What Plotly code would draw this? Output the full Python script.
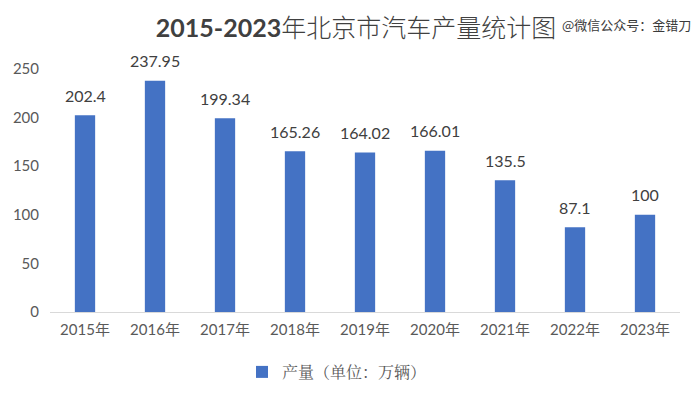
import plotly.graph_objects as go

years = ["2015年", "2016年", "2017年", "2018年", "2019年", "2020年", "2021年", "2022年", "2023年"]
output = [202.4, 237.95, 199.34, 165.26, 164.02, 166.01, 135.5, 87.1, 100]
labels = ["202.4", "237.95", "199.34", "165.26", "164.02", "166.01", "135.5", "87.1", "100"]
y_ticks = [0, 50, 100, 150, 200, 250]
series_name = "产量（单位：万辆）"
title_text = "<b>2015-2023</b>年北京市汽车产量统计图"
watermark = "@微信公众号：金错刀"

FONT = "Lato, 'Noto Sans CJK SC', sans-serif"

# The page body has an 8px default margin; layout coordinates are offset for it.
L, R, T, B = 42, 28, 61, 95
PH = 399 - T - B

fig = go.Figure()
fig.add_trace(go.Bar(
    x=years, y=output, name=series_name,
    marker=dict(color="#4472C4", line=dict(width=0)),
    showlegend=True,
))

label_annotations = [
    dict(x=yr, y=v, xref="x", yref="y", text=t, showarrow=False,
         yanchor="middle", yshift=20,
         font=dict(family=FONT, size=16, color="#404040"))
    for yr, v, t in zip(years, output, labels)
]

fig.update_layout(
    width=700, height=399,
    paper_bgcolor="white", plot_bgcolor="white",
    margin=dict(l=L, r=R, t=T, b=B, autoexpand=False),
    bargap=0.71,
    font=dict(family=FONT, color="#595959"),
    title=dict(
        text=title_text, x=348 / 700, xref="container", xanchor="center",
        y=1 - 20 / 399, yref="container", yanchor="middle",
        font=dict(family=FONT, size=25, color="#404040", weight=300),
    ),
    showlegend=True,
    legend=dict(
        orientation="h", xref="container", yref="container",
        x=234 / 700, xanchor="left", y=1 - 364 / 399, yanchor="middle",
        font=dict(family="'Noto Serif CJK SC', 'Noto Sans CJK SC', sans-serif", size=16, color="#595959"),
        itemwidth=30,
    ),
    xaxis=dict(
        showgrid=False, showline=True, linecolor="#D9D9D9", linewidth=1,
        ticks="", tickfont=dict(family=FONT, size=15, color="#595959"),
        ticklabelstandoff=4,
    ),
    yaxis=dict(
        range=[0, 250], tickvals=y_ticks, showgrid=False, zeroline=False,
        showline=False, ticks="",
        tickfont=dict(family=FONT, size=15, color="#595959"),
        ticklabelstandoff=10,
    ),
    annotations=label_annotations + [dict(
        text=watermark, xref="paper", yref="paper",
        x=(552 - L) / (700 - L - R), y=1 + (T - 17) / PH,
        xanchor="left", yanchor="middle", showarrow=False,
        font=dict(family="'Noto Sans CJK SC', sans-serif", size=13, color="#3a3a3a"),
    )],
)

fig.write_html("out.html")
